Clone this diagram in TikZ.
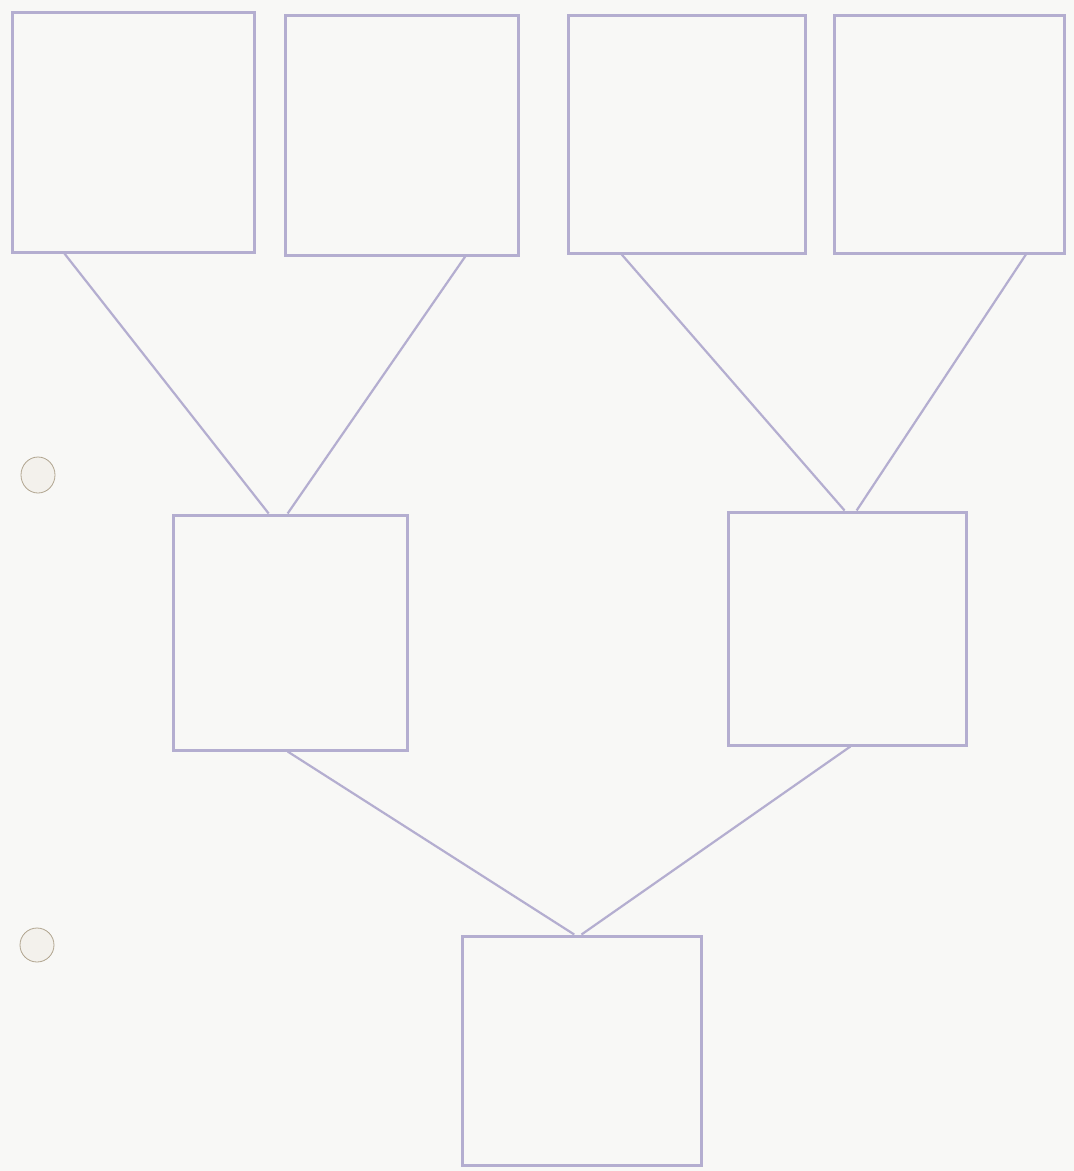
\documentclass[tikz,border=0pt]{standalone}
\usetikzlibrary{calc}
\definecolor{paper}{HTML}{F8F8F6}
\definecolor{pencil}{HTML}{B4AED0}
\definecolor{holeedge}{HTML}{B0A48E}
\definecolor{holefill}{HTML}{F3F1EC}
\tikzset{
  box/.style={draw=pencil, line width=3pt, inner sep=0pt, minimum width=#1},
  link/.style={draw=pencil, line width=2.2pt},
  hole/.style={draw=holeedge, fill=holefill, line width=0.8pt}
}
\begin{document}
\begin{tikzpicture}[x=1pt,y=-1pt]
\fill[paper] (0,0) rectangle (1074,1171);
\useasboundingbox (0,0) rectangle (1074,1171);
% punch holes
\draw[hole] (38,475) ellipse (17 and 18);
\draw[hole] (37,945) ellipse (17 and 17);
% boxes
\node[box=242pt, minimum height=240pt] (b1) at (133,132) {};
\node[box=233pt, minimum height=240pt] (b2) at (401.5,135) {};
\node[box=237pt, minimum height=238pt] (b3) at (686.5,134) {};
\node[box=230pt, minimum height=238pt] (b4) at (949,134) {};
\node[box=234pt, minimum height=235pt] (b5) at (290,632.5) {};
\node[box=238pt, minimum height=233pt] (b6) at (847,628.5) {};
\node[box=239pt, minimum height=229pt] (b7) at (581.5,1050.5) {};
% connectors
\draw[link] ($(b1.south west)!0.22!(b1.south east)$) -- ($(b5.north west)!0.41!(b5.north east)$);
\draw[link] ($(b2.south west)!0.77!(b2.south east)$) -- ($(b5.north west)!0.49!(b5.north east)$);
\draw[link] ($(b3.south west)!0.23!(b3.south east)$) -- ($(b6.north west)!0.49!(b6.north east)$);
\draw[link] ($(b4.south west)!0.83!(b4.south east)$) -- ($(b6.north west)!0.54!(b6.north east)$);
\draw[link] ($(b5.south west)!0.49!(b5.south east)$) -- ($(b7.north west)!0.47!(b7.north east)$);
\draw[link] ($(b6.south west)!0.514!(b6.south east)$) -- ($(b7.north west)!0.5!(b7.north east)$);
\end{tikzpicture}
\end{document}
